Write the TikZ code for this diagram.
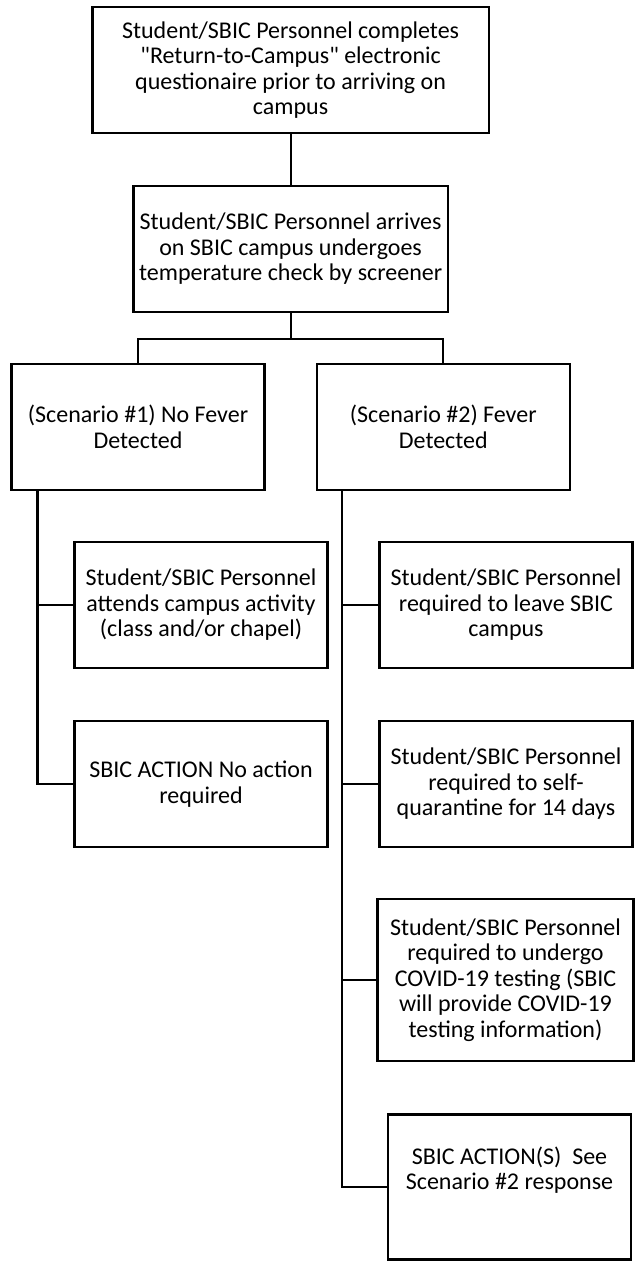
\documentclass[tikz,border=0pt]{standalone}
\usepackage{fontspec}
\setmainfont{Carlito}[Ligatures=TeXOff]
\tikzset{
  box/.style={draw, line width=2.2bp, inner sep=0pt, align=center,
    font=\fontsize{24bp}{25.5bp}\selectfont},
  txt/.style={inner sep=0pt, align=center, font=\fontsize{24bp}{25.5bp}\selectfont},
  link/.style={line width=2.2bp}
}
\begin{document}
\begin{tikzpicture}[x=1bp, y=-1bp]
\useasboundingbox (0,0) rectangle (635,1261);
\node[box, minimum width=396bp, minimum height=126bp] (b1) at (290.6,70)
  {Student/SBIC Personnel completes\\"Return-to-Campus" electronic\\questionaire prior to arriving on\\campus};
\node[box, minimum width=314bp, minimum height=126bp] (b2) at (290.6,249)
  {Student/SBIC Personnel arrives\\on SBIC campus undergoes\\temperature check by screener};
\node[box, minimum width=253bp, minimum height=126bp] (b3) at (138,427)
  {(Scenario \#1) No Fever\\Detected};
\node[box, minimum width=253bp, minimum height=126bp] (b4) at (443.3,427)
  {(Scenario \#2) Fever\\Detected};
\node[box, minimum width=253bp, minimum height=126bp] (b5) at (201,605)
  {Student/SBIC Personnel\\attends campus activity\\(class and/or chapel)};
\node[box, minimum width=253bp, minimum height=126bp] (b6) at (506,605)
  {Student/SBIC Personnel\\required to leave SBIC\\campus};
\node[box, minimum width=253bp, minimum height=126bp] (b7) at (201,784)
  {SBIC ACTION No action\\required};
\node[box, minimum width=253bp, minimum height=126bp] (b8) at (506,784)
  {Student/SBIC Personnel\\required to self-\\quarantine for 14 days};
\node[box, minimum width=256bp, minimum height=162bp] (b9) at (505.5,980)
  {Student/SBIC Personnel\\required to undergo\\COVID-19 testing (SBIC\\will provide COVID-19\\testing information)};
\node[box, minimum width=243bp, minimum height=145bp] (b10) at (509.5,1187) {};
\node[txt] (b10t) at (509.5,1170) {SBIC ACTION(S)~~See\\Scenario \#2 response};

\draw[link] (b1.south) -- (b2.north);
\draw[link] (b2.south) -- ++(0,26) -| (b3.north);
\draw[link] (b2.south) -- ++(0,26) -| (b4.north);
\coordinate (l) at (37.4,490);
\coordinate (r) at (342,490);
\draw[link] (l) |- (b5.west);
\draw[link] (l) |- (b7.west);
\draw[link] (r) |- (b6.west);
\draw[link] (r) |- (b8.west);
\draw[link] (r) |- (b9.west);
\draw[link] (r) |- (b10.west);
\end{tikzpicture}
\end{document}
